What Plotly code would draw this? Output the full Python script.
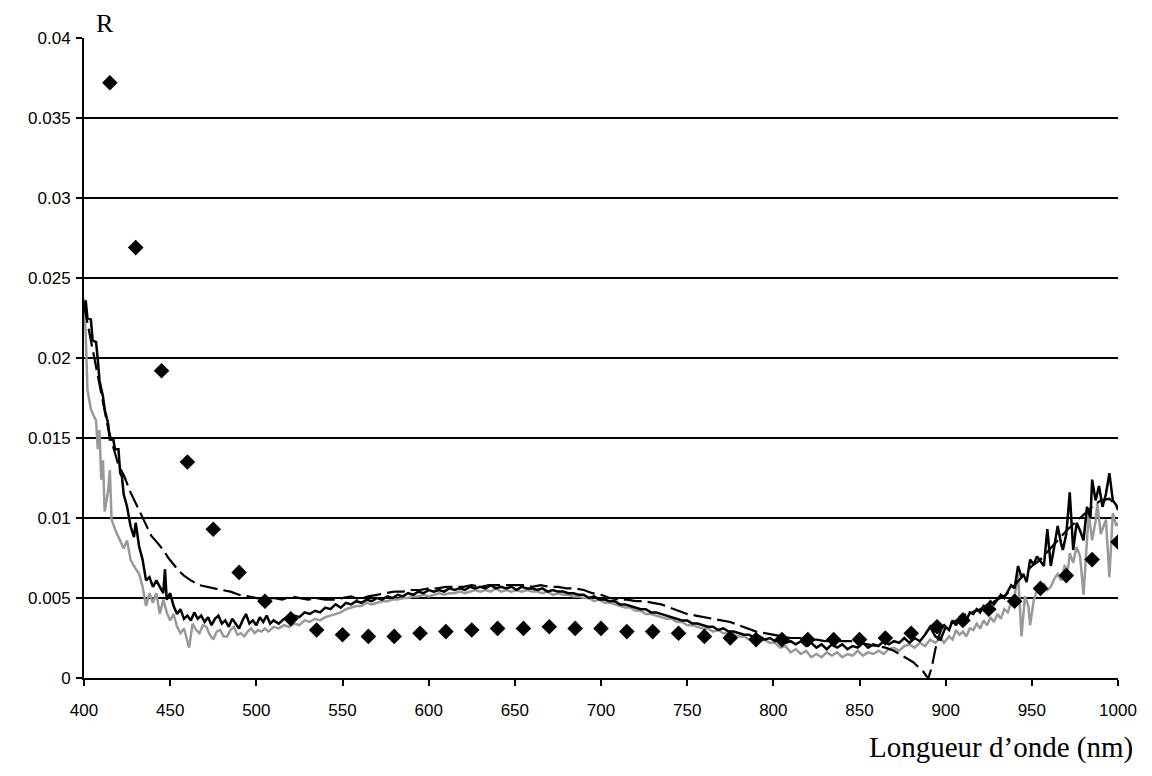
import plotly.graph_objects as go

# ---- data ----
diamond_wl = [415, 430, 445, 460, 475, 490, 505, 520, 535, 550, 565, 580, 595, 610, 625, 640,
              655, 670, 685, 700, 715, 730, 745, 760, 775, 790, 805, 820, 835, 850, 865, 880,
              895, 910, 925, 940, 955, 970, 985, 1000]
diamond_r = [0.0372, 0.0269, 0.0192, 0.0135, 0.0093, 0.0066, 0.0048, 0.0037, 0.0030, 0.0027,
             0.0026, 0.0026, 0.0028, 0.0029, 0.0030, 0.0031, 0.0031, 0.0032, 0.0031, 0.0031,
             0.0029, 0.0029, 0.0028, 0.0026, 0.0025, 0.0024, 0.0024, 0.0024, 0.0024, 0.0024,
             0.0025, 0.0028, 0.0032, 0.0036, 0.0043, 0.0048, 0.0056, 0.0064, 0.0074, 0.0085]

black_wl = [400, 401, 402, 404, 405, 407, 408, 409, 411, 412, 414, 415, 417, 418, 420, 421, 422, 423,
            425, 427, 429, 430, 432, 434, 436, 438, 440, 442, 444, 446, 447, 448, 450, 452, 454, 456,
            458, 460, 462, 464, 466, 468, 470, 472, 474, 476, 478, 480, 482, 484, 486, 488, 490, 492,
            494, 496, 498, 500, 502, 504, 506, 508, 510, 513, 516, 519, 522, 525, 528, 531, 534, 537,
            540, 543, 546, 549, 552, 555, 558, 561, 564, 567, 570, 573, 576, 579, 582, 585, 588, 591,
            594, 597, 600, 603, 606, 609, 612, 615, 618, 621, 624, 627, 630, 633, 636, 639, 642, 645,
            648, 651, 654, 657, 660, 663, 666, 669, 672, 675, 678, 681, 684, 687, 690, 693, 696, 699,
            702, 705, 708, 711, 714, 717, 720, 723, 726, 729, 732, 735, 738, 741, 744, 747, 750, 753,
            756, 759, 762, 765, 768, 771, 774, 777, 780, 783, 786, 789, 792, 795, 798, 801, 804, 807,
            810, 813, 816, 819, 822, 825, 828, 831, 834, 837, 840, 843, 846, 849, 852, 855, 858, 861,
            864, 867, 870, 873, 876, 879, 882, 885, 888, 891, 894, 897, 900, 902, 904, 906, 908, 910,
            912, 914, 916, 918, 920, 922, 924, 926, 928, 930, 932, 934, 936, 938, 940, 942, 944, 945,
            947, 949, 951, 953, 955, 957, 959, 961, 963, 965, 967, 968, 970, 972, 974, 976, 978, 980,
            982, 984, 985, 987, 989, 991, 993, 995, 997, 999, 1000]
black_r = [0.0230, 0.0236, 0.0225, 0.0224, 0.0211, 0.0210, 0.0199, 0.0186, 0.0176, 0.0168, 0.0159,
           0.0149, 0.0149, 0.0143, 0.0143, 0.0128, 0.0126, 0.0115, 0.0107, 0.0095, 0.0088, 0.0097,
           0.0082, 0.0074, 0.0061, 0.0063, 0.0057, 0.0061, 0.0057, 0.0053, 0.0068, 0.0049, 0.0053,
           0.0045, 0.0040, 0.0043, 0.0037, 0.0039, 0.0036, 0.0041, 0.0037, 0.0039, 0.0035, 0.0038,
           0.0033, 0.0037, 0.0039, 0.0034, 0.0036, 0.0032, 0.0037, 0.0034, 0.0031, 0.0036, 0.0040,
           0.0034, 0.0036, 0.0033, 0.0038, 0.0035, 0.0039, 0.0034, 0.0036, 0.0034, 0.0037, 0.0036,
           0.0039, 0.0038, 0.0041, 0.0040, 0.0042, 0.0041, 0.0044, 0.0043, 0.0046, 0.0044, 0.0047,
           0.0046, 0.0048, 0.0047, 0.0049, 0.0048, 0.0050, 0.0049, 0.0051, 0.0050, 0.0052, 0.0051,
           0.0053, 0.0052, 0.0054, 0.0053, 0.0055, 0.0054, 0.0055, 0.0054, 0.0056, 0.0055, 0.0056,
           0.0055, 0.0057, 0.0056, 0.0057, 0.0056, 0.0058, 0.0056, 0.0057, 0.0056, 0.0057, 0.0055,
           0.0057, 0.0056, 0.0056, 0.0055, 0.0056, 0.0054, 0.0055, 0.0054, 0.0054, 0.0053, 0.0053,
           0.0052, 0.0052, 0.0050, 0.0051, 0.0049, 0.0049, 0.0048, 0.0048, 0.0046, 0.0046, 0.0045,
           0.0044, 0.0043, 0.0043, 0.0041, 0.0041, 0.0040, 0.0039, 0.0038, 0.0037, 0.0036, 0.0036,
           0.0034, 0.0034, 0.0033, 0.0032, 0.0032, 0.0030, 0.0031, 0.0029, 0.0029, 0.0028, 0.0027,
           0.0027, 0.0025, 0.0026, 0.0024, 0.0025, 0.0023, 0.0024, 0.0022, 0.0023, 0.0021, 0.0023,
           0.0020, 0.0022, 0.0019, 0.0021, 0.0018, 0.0021, 0.0019, 0.0021, 0.0018, 0.0020, 0.0019,
           0.0022, 0.0019, 0.0021, 0.0020, 0.0023, 0.0021, 0.0023, 0.0022, 0.0025, 0.0022, 0.0025,
           0.0023, 0.0027, 0.0032, 0.0026, 0.0024, 0.0032, 0.0030, 0.0036, 0.0033, 0.0038, 0.0040,
           0.0036, 0.0041, 0.0040, 0.0043, 0.0041, 0.0045, 0.0044, 0.0048, 0.0046, 0.0049, 0.0052,
           0.0050, 0.0054, 0.0058, 0.0056, 0.0070, 0.0063, 0.0065, 0.0060, 0.0074, 0.0071, 0.0076,
           0.0073, 0.0070, 0.0093, 0.0070, 0.0082, 0.0095, 0.0084, 0.0080, 0.0090, 0.0116, 0.0080,
           0.0097, 0.0092, 0.0086, 0.0107, 0.0100, 0.0124, 0.0111, 0.0120, 0.0107, 0.0115, 0.0128,
           0.0111, 0.0108, 0.0105]

gray_wl = [400, 401, 402, 404, 406, 407, 408, 409, 410, 411, 412, 414, 415, 416, 418, 420, 421, 423,
           425, 427, 429, 431, 432, 434, 436, 438, 440, 442, 444, 446, 448, 450, 452, 454, 456, 458,
           460, 461, 463, 465, 467, 469, 471, 473, 475, 477, 479, 481, 483, 485, 487, 489, 491, 493,
           495, 497, 499, 501, 503, 505, 507, 510, 513, 516, 519, 522, 525, 528, 531, 534, 537, 540,
           543, 546, 549, 552, 555, 558, 561, 564, 567, 570, 573, 576, 579, 582, 585, 588, 591, 594,
           597, 600, 603, 606, 609, 612, 615, 618, 621, 624, 627, 630, 633, 636, 639, 642, 645, 648,
           651, 654, 657, 660, 663, 666, 669, 672, 675, 678, 681, 684, 687, 690, 693, 696, 699, 702,
           705, 708, 711, 714, 717, 720, 723, 726, 729, 732, 735, 738, 741, 744, 747, 750, 753, 756,
           759, 762, 765, 768, 771, 774, 777, 780, 783, 786, 789, 792, 795, 798, 801, 804, 807, 810,
           813, 816, 819, 822, 825, 828, 831, 834, 837, 840, 843, 846, 849, 852, 855, 858, 861, 864,
           867, 870, 873, 876, 879, 882, 885, 888, 891, 894, 897, 899, 902, 904, 906, 908, 910, 912,
           914, 916, 918, 920, 922, 924, 926, 928, 930, 932, 934, 936, 938, 940, 942, 944, 946, 948,
           949, 951, 953, 955, 957, 959, 961, 963, 965, 967, 969, 971, 972, 974, 976, 978, 980, 981,
           983, 985, 987, 988, 990, 992, 993, 995, 997, 999, 1000]
gray_r = [0.0237, 0.0215, 0.0180, 0.0168, 0.0163, 0.0161, 0.0143, 0.0155, 0.0124, 0.0136, 0.0104,
          0.0117, 0.0130, 0.0099, 0.0093, 0.0088, 0.0086, 0.0081, 0.0086, 0.0074, 0.0070, 0.0067,
          0.0065, 0.0057, 0.0045, 0.0053, 0.0047, 0.0053, 0.0040, 0.0049, 0.0041, 0.0036, 0.0040,
          0.0032, 0.0028, 0.0031, 0.0024, 0.0019, 0.0034, 0.0030, 0.0028, 0.0033, 0.0032, 0.0027,
          0.0024, 0.0029, 0.0030, 0.0026, 0.0026, 0.0030, 0.0032, 0.0027, 0.0028, 0.0026, 0.0029,
          0.0031, 0.0028, 0.0030, 0.0029, 0.0031, 0.0029, 0.0032, 0.0031, 0.0033, 0.0032, 0.0034,
          0.0033, 0.0036, 0.0035, 0.0037, 0.0036, 0.0038, 0.0039, 0.0040, 0.0041, 0.0043, 0.0044,
          0.0045, 0.0045, 0.0047, 0.0046, 0.0047, 0.0048, 0.0048, 0.0049, 0.0049, 0.0050, 0.0050,
          0.0051, 0.0051, 0.0052, 0.0051, 0.0052, 0.0053, 0.0052, 0.0053, 0.0053, 0.0054, 0.0053,
          0.0054, 0.0055, 0.0054, 0.0055, 0.0054, 0.0056, 0.0054, 0.0055, 0.0054, 0.0055, 0.0054,
          0.0055, 0.0054, 0.0054, 0.0053, 0.0054, 0.0052, 0.0053, 0.0052, 0.0052, 0.0051, 0.0051,
          0.0050, 0.0050, 0.0048, 0.0049, 0.0047, 0.0047, 0.0046, 0.0045, 0.0044, 0.0044, 0.0042,
          0.0042, 0.0040, 0.0040, 0.0039, 0.0038, 0.0037, 0.0037, 0.0035, 0.0035, 0.0033, 0.0033,
          0.0032, 0.0031, 0.0031, 0.0029, 0.0030, 0.0028, 0.0028, 0.0027, 0.0026, 0.0026, 0.0024,
          0.0025, 0.0023, 0.0024, 0.0022, 0.0022, 0.0019, 0.0020, 0.0016, 0.0018, 0.0015, 0.0017,
          0.0013, 0.0015, 0.0013, 0.0016, 0.0014, 0.0016, 0.0013, 0.0015, 0.0014, 0.0017, 0.0014,
          0.0016, 0.0015, 0.0017, 0.0015, 0.0018, 0.0019, 0.0017, 0.0020, 0.0021, 0.0019, 0.0022,
          0.0020, 0.0024, 0.0022, 0.0025, 0.0022, 0.0026, 0.0024, 0.0030, 0.0027, 0.0029, 0.0026,
          0.0031, 0.0030, 0.0034, 0.0031, 0.0036, 0.0033, 0.0038, 0.0035, 0.0040, 0.0037, 0.0043,
          0.0041, 0.0047, 0.0051, 0.0065, 0.0026, 0.0051, 0.0045, 0.0033, 0.0048, 0.0055, 0.0052,
          0.0059, 0.0055, 0.0057, 0.0062, 0.0065, 0.0061, 0.0070, 0.0068, 0.0078, 0.0072, 0.0082,
          0.0076, 0.0052, 0.0070, 0.0103, 0.0086, 0.0098, 0.0109, 0.0090, 0.0096, 0.0099, 0.0063,
          0.0103, 0.0095, 0.0097]

dash_wl = [400, 402, 404, 406, 408, 410, 412, 414, 416, 418, 420, 423, 427, 431, 435, 439, 443, 446,
           449, 452, 455, 458, 462, 467, 471, 475, 480, 485, 490, 495, 500, 505, 510, 515, 520, 525,
           530, 535, 540, 545, 550, 555, 560, 565, 570, 575, 580, 585, 590, 595, 600, 605, 610, 615,
           620, 625, 630, 635, 640, 645, 650, 655, 660, 665, 670, 675, 680, 685, 690, 695, 700, 705,
           710, 715, 720, 725, 730, 735, 740, 745, 750, 755, 760, 765, 770, 775, 780, 785, 790, 795,
           800, 805, 810, 815, 820, 825, 830, 835, 840, 845, 850, 855, 860, 865, 870, 875, 878, 881,
           884, 887, 889, 890, 892, 894, 896, 898, 900, 905, 910, 915, 920, 925, 930, 935, 940, 945,
           950, 955, 960, 965, 970, 975, 980, 985, 990, 995, 1000]
dash_r = [0.0233, 0.0222, 0.0209, 0.0199, 0.0188, 0.0177, 0.0166, 0.0156, 0.0148, 0.0140, 0.0133,
          0.0127, 0.0116, 0.0107, 0.0098, 0.0089, 0.0084, 0.0080, 0.0075, 0.0071, 0.0067, 0.0064,
          0.0061, 0.0058, 0.0057, 0.0056, 0.0055, 0.0054, 0.0052, 0.0051, 0.0050, 0.0049, 0.0050,
          0.0049, 0.0051, 0.0050, 0.0049, 0.0050, 0.0049, 0.0049, 0.0050, 0.0051, 0.0049, 0.0051,
          0.0052, 0.0053, 0.0054, 0.0054, 0.0055, 0.0055, 0.0056, 0.0056, 0.0057, 0.0057, 0.0057,
          0.0058, 0.0057, 0.0058, 0.0058, 0.0058, 0.0058, 0.0058, 0.0057, 0.0058, 0.0057, 0.0057,
          0.0056, 0.0056, 0.0055, 0.0053, 0.0052, 0.0050, 0.0049, 0.0049, 0.0048, 0.0048, 0.0047,
          0.0046, 0.0044, 0.0042, 0.0040, 0.0039, 0.0038, 0.0037, 0.0036, 0.0035, 0.0033, 0.0031,
          0.0029, 0.0028, 0.0027, 0.0026, 0.0025, 0.0025, 0.0024, 0.0024, 0.0023, 0.0023, 0.0023,
          0.0023, 0.0022, 0.0021, 0.0020, 0.0019, 0.0017, 0.0014, 0.0012, 0.0010, 0.0007, 0.0004,
          0.0001, 0.0000, 0.0007, 0.0018, 0.0026, 0.0032, 0.0034, 0.0035, 0.0039, 0.0041, 0.0043,
          0.0046, 0.0049, 0.0052, 0.0058, 0.0064, 0.0070, 0.0074, 0.0080, 0.0086, 0.0092, 0.0097,
          0.0102, 0.0107, 0.0111, 0.0112, 0.0107]

y_ticks = [0, 0.005, 0.01, 0.015, 0.02, 0.025, 0.03, 0.035, 0.04]
y_ticktext = ["0", "0.005", "0.01", "0.015", "0.02", "0.025", "0.03", "0.035", "0.04"]
x_ticks = [400, 450, 500, 550, 600, 650, 700, 750, 800, 850, 900, 950, 1000]

fig = go.Figure()
fig.add_trace(go.Scatter(x=gray_wl, y=gray_r, mode="lines",
                         line=dict(color="#999999", width=2.5), showlegend=False))
fig.add_trace(go.Scatter(x=dash_wl, y=dash_r, mode="lines",
                         line=dict(color="black", width=2.2, dash="18px,6px"), showlegend=False))
fig.add_trace(go.Scatter(x=black_wl, y=black_r, mode="lines",
                         line=dict(color="black", width=2.5), showlegend=False))
fig.add_trace(go.Scatter(x=diamond_wl, y=diamond_r, mode="markers",
                         marker=dict(symbol="diamond", size=12, color="black"), showlegend=False))

serif = "Liberation Serif, Times New Roman, serif"
fig.update_layout(
    width=1144, height=768,
    margin=dict(l=76, r=34, t=30, b=98),
    paper_bgcolor="white", plot_bgcolor="white",
    font=dict(family="Liberation Sans, Arial", size=17, color="black"),
    xaxis=dict(range=[400, 1000], tickvals=x_ticks, showgrid=False, zeroline=False,
               showline=True, linecolor="black", linewidth=2, ticks="outside", ticklen=6,
               tickwidth=2, tickcolor="black", tickfont=dict(size=17), ticklabelstandoff=10),
    yaxis=dict(range=[0, 0.04], tickvals=y_ticks, ticktext=y_ticktext, showgrid=True,
               gridcolor="black", gridwidth=1.5, zeroline=False, showline=True,
               linecolor="black", linewidth=2, ticks="outside", ticklen=6, tickwidth=2,
               tickcolor="black", tickfont=dict(size=17), ticklabelstandoff=2),
    annotations=[
        dict(text="R", xref="paper", yref="paper", x=0.0203, y=1.0235, xanchor="center",
             yanchor="middle", showarrow=False, height=24, valign="middle",
             font=dict(family=serif, size=26, color="black")),
        dict(text="Longueur d’onde (nm)", xref="paper", yref="paper", x=1.0165, y=-0.109,
             xanchor="right", yanchor="middle", showarrow=False,
             font=dict(family=serif, size=29, color="black")),
    ],
)

fig.write_html("out.html")
